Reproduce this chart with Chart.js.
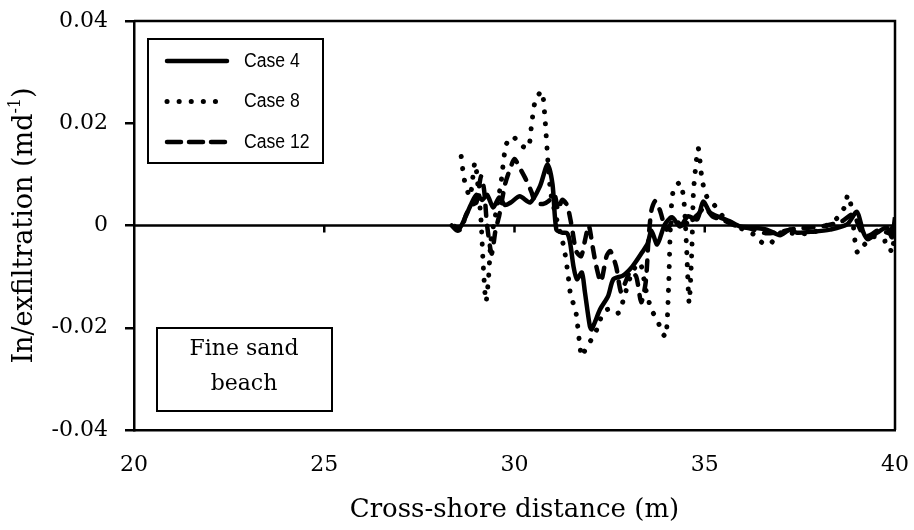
<!DOCTYPE html>
<html>
<head>
<meta charset="utf-8">
<script src="https://cdn.jsdelivr.net/npm/chart.js@4/dist/chart.umd.min.js"></script>
<style>
  body { margin: 0; background: #fff; }
  #wrap { width: 914px; height: 530px; position: relative; }
</style>
</head>
<body>
<div id="wrap"><canvas id="infil"></canvas></div>
<script>
// values (x in m, y in m/d)
const case4X = [28.4, 28.55, 28.7, 28.85, 29.0, 29.15, 29.28, 29.44, 29.6, 29.75, 29.9, 30.14, 30.41, 30.67, 30.87, 31.0, 31.1, 31.25, 31.38, 31.46, 31.55, 31.64, 31.77, 31.85, 31.98, 32.03, 32.25, 32.46, 32.6, 32.85, 33.1, 33.35, 33.5, 33.6, 33.75, 33.95, 34.14, 34.35, 34.56, 34.8, 34.96, 35.14, 35.4, 35.66, 35.93, 36.27, 36.63, 36.98, 37.24, 37.42, 37.85, 38.29, 38.74, 39.0, 39.16, 39.29, 39.53, 39.79, 39.92, 40.0];
const case4Y = [0, -0.0006, 0.0015, 0.004, 0.006, 0.005, 0.006, 0.0035, 0.0055, 0.004, 0.0045, 0.0057, 0.0045, 0.0077, 0.012, 0.008, -0.0008, -0.0014, -0.0015, -0.0033, -0.008, -0.0105, -0.0092, -0.013, -0.0197, -0.0203, -0.0164, -0.0138, -0.0105, -0.0098, -0.008, -0.0053, -0.0035, -0.001, -0.0037, 0.0002, 0.0016, -0.0002, 0.0018, 0.0012, 0.0047, 0.0025, 0.0016, 0.0008, -0.0002, -0.0004, -0.0008, -0.0019, -0.0008, -0.0014, -0.0012, -0.0008, 0.0002, 0.0027, -0.0012, -0.0027, -0.0014, -0.0004, -0.0023, 0.0016];

const case8X = [28.6, 28.68, 28.83, 28.96, 29.05, 29.12, 29.18, 29.25, 29.32, 29.38, 29.5, 29.65, 29.78, 29.96, 30.14, 30.36, 30.45, 30.55, 30.72, 30.8, 30.88, 30.95, 31.05, 31.15, 31.3, 31.4, 31.48, 31.6, 31.65, 31.72, 31.77, 31.9, 32.05, 32.2, 32.3, 32.45, 32.6, 32.75, 32.9, 33.1, 33.3, 33.45, 33.6, 33.75, 33.88, 33.98, 34.05, 34.1, 34.17, 34.35, 34.45, 34.52, 34.59, 34.66, 34.7, 34.75, 34.83, 34.93, 35.05, 35.25, 35.5, 35.85, 36.3, 36.5, 36.7, 37.0, 37.4, 37.8, 38.2, 38.5, 38.68, 38.76, 38.85, 38.95, 39.02, 39.2, 39.45, 39.65, 39.8, 39.92, 40.0];
const case8Y = [0.0135, 0.009, 0.0057, 0.0123, 0.007, 0.001, -0.008, -0.0149, -0.01, -0.003, 0.002, 0.0086, 0.0158, 0.0174, 0.0158, 0.0152, 0.0198, 0.0245, 0.0262, 0.021, 0.0123, 0.0065, 0.003, 0.0, -0.0043, -0.0092, -0.0138, -0.0164, -0.019, -0.0236, -0.0256, -0.0236, -0.022, -0.0197, -0.0175, -0.0164, -0.0172, -0.017, -0.0135, -0.009, -0.0073, -0.0125, -0.0165, -0.0184, -0.021, -0.0217, -0.012, 0.0, 0.0067, 0.0084, 0.005, -0.004, -0.0151, -0.005, 0.006, 0.0106, 0.0151, 0.009, 0.0057, 0.004, 0.0016, -0.0002, -0.0018, -0.0033, -0.0037, -0.0014, -0.0016, -0.0015, 0.0, 0.0016, 0.0037, 0.006, 0.0037, -0.0031, -0.0053, -0.0037, -0.0022, -0.0031, -0.0031, -0.0053, 0.0];

const case12X = [28.35, 28.5, 28.62, 28.72, 28.88, 29.0, 29.12, 29.2, 29.28, 29.4, 29.5, 29.6, 29.75, 29.88, 30.0, 30.12, 30.3, 30.45, 30.55, 30.75, 30.9, 31.05, 31.15, 31.25, 31.38, 31.5, 31.62, 31.75, 31.85, 31.95, 32.05, 32.15, 32.27, 32.42, 32.52, 32.67, 32.8, 32.92, 33.05, 33.2, 33.33, 33.45, 33.52, 33.6, 33.7, 33.82, 33.92, 34.0, 34.2, 34.4, 34.6, 34.8, 35.0, 35.2, 35.5, 35.8, 36.2, 36.6, 37.0, 37.4, 37.8, 38.2, 38.6, 38.9, 39.1, 39.3, 39.6, 39.85, 40.0];
const case12Y = [0, -0.001, -0.0005, 0.002, 0.004, 0.0045, 0.0096, 0.007, 0.0, -0.0055, -0.001, 0.002, 0.008, 0.011, 0.013, 0.0115, 0.009, 0.0065, 0.0045, 0.0042, 0.0048, 0.006, 0.003, 0.005, 0.004, 0.0, -0.005, -0.006, -0.003, 0.0, -0.004, -0.008, -0.011, -0.006, -0.005, -0.008, -0.013, -0.011, -0.009, -0.01, -0.015, -0.011, -0.003, 0.003, 0.0048, 0.003, 0.0005, -0.0008, 0.0012, 0.0, 0.0008, 0.002, 0.0035, 0.0018, 0.001, 0.0, -0.0006, -0.0015, -0.0012, -0.0006, -0.0004, 0.0, 0.0008, 0.0022, -0.001, -0.002, -0.0008, -0.0015, 0.001];

const seriesNames = ['Case 4', 'Case 8', 'Case 12'];
const noteLines = ['Fine sand', 'beach'];

const serif = "'DejaVu Serif', serif";

function pts(xs, ys) {
    return xs.map((x, i) => ({x: x, y: ys[i]}));
}

// draws the zero axis, frame, legend box, note box and y title
const framePlugin = {
    id: 'frame',
    beforeDatasetsDraw(chart) {
        const {ctx, chartArea: a, scales: {x, y}} = chart;
        const y0 = y.getPixelForValue(0);
        ctx.save();
        ctx.strokeStyle = '#000';
        ctx.lineWidth = 2.5;
        ctx.beginPath();
        ctx.moveTo(a.left, y0);
        ctx.lineTo(a.right, y0);
        x.ticks.forEach(t => {
            if (t.value > x.min && t.value < x.max) {
                const px = x.getPixelForValue(t.value);
                ctx.moveTo(px, y0);
                ctx.lineTo(px, y0 + 7);
            }
        });
        ctx.stroke();
        ctx.restore();
    },
    afterDraw(chart) {
        const {ctx, chartArea: a} = chart;
        ctx.save();
        ctx.strokeStyle = '#000';
        ctx.fillStyle = '#000';
        ctx.lineWidth = 2.5;
        ctx.beginPath();
        ctx.moveTo(a.left, a.top);
        ctx.lineTo(a.right, a.top);
        ctx.lineTo(a.right, a.bottom);
        ctx.stroke();

        // legend
        const lx = a.left + 14, ly = a.top + 18;
        ctx.fillStyle = '#fff';
        ctx.fillRect(lx, ly, 175, 124);
        ctx.lineWidth = 2;
        ctx.strokeRect(lx, ly, 175, 124);
        ctx.fillStyle = '#000';
        ctx.font = "20px 'Liberation Sans Narrow', 'Liberation Sans', sans-serif";
        ctx.textBaseline = 'middle';
        chart.data.datasets.forEach((ds, i) => {
            const ry = ly + 22 + i * 40.5;
            ctx.save();
            ctx.lineWidth = ds.borderWidth;
            ctx.lineCap = 'round';
            ctx.setLineDash(ds.legendDash || []);
            ctx.beginPath();
            ctx.moveTo(lx + 19, ry);
            ctx.lineTo(lx + 79, ry);
            ctx.stroke();
            ctx.restore();
            ctx.save();
            ctx.translate(lx + 96, ry);
            ctx.scale(0.88, 1);
            ctx.fillText(ds.label, 0, 0);
            ctx.restore();
        });

        // note box
        const nx = a.left + 23, ny = a.top + 307;
        ctx.lineWidth = 2;
        ctx.fillStyle = '#fff';
        ctx.fillRect(nx, ny, 175, 83);
        ctx.strokeRect(nx, ny, 175, 83);
        ctx.fillStyle = '#000';
        ctx.font = '22px ' + serif;
        ctx.textAlign = 'center';
        ctx.textBaseline = 'alphabetic';
        noteLines.forEach((t, i) => ctx.fillText(t, nx + 87, ny + 27 + i * 35));

        // y axis title with superscript
        ctx.translate(25, (a.top + a.bottom) / 2);
        ctx.rotate(-Math.PI / 2);
        const main = 'In/exfiltration (md';
        const sup = '-1';
        const tail = ')';
        ctx.font = '27px ' + serif;
        const w1 = ctx.measureText(main).width;
        const w3 = ctx.measureText(tail).width;
        ctx.font = '16px ' + serif;
        const w2 = ctx.measureText(sup).width;
        let sx = -(w1 + w2 + w3) / 2;
        ctx.textAlign = 'left';
        ctx.textBaseline = 'middle';
        ctx.font = '27px ' + serif;
        ctx.fillText(main, sx, 0);
        ctx.font = '16px ' + serif;
        ctx.fillText(sup, sx + w1, -9);
        ctx.font = '27px ' + serif;
        ctx.fillText(tail, sx + w1 + w2, 0);
        ctx.restore();
    }
};

const config = {
    type: 'line',
    data: {
        datasets: [{
            label: seriesNames[0],
            data: pts(case4X, case4Y),
            borderColor: '#000',
            borderWidth: 4.5,
            borderDash: [],
            legendDash: []
        },
        {
            label: seriesNames[1],
            data: pts(case8X, case8Y),
            borderColor: '#000',
            borderWidth: 5,
            borderCapStyle: 'round',
            borderDash: [0.1, 12],
            legendDash: [0.1, 12]
        },
        {
            label: seriesNames[2],
            data: pts(case12X, case12Y),
            borderColor: '#000',
            borderWidth: 4.5,
            borderCapStyle: 'round',
            borderDash: [10, 10],
            legendDash: [14, 8]
        }]
    },
    options: {
        responsive: true,
        maintainAspectRatio: false,
        animation: false,
        layout: { padding: {top: 21, right: 19, bottom: 0, left: 0} },
        elements: { point: { radius: 0 }, line: { tension: 0.25, borderJoinStyle: 'round' } },
        plugins: { legend: { display: false }, tooltip: { enabled: false } },
        scales: {
            x: {
                type: 'linear',
                min: 20,
                max: 40,
                ticks: { stepSize: 5, color: '#000', padding: 14, font: { family: serif, size: 22 } },
                grid: { display: false },
                border: { display: true, color: '#000', width: 2.5 },
                title: {
                    display: true,
                    text: 'Cross-shore distance (m)',
                    color: '#000',
                    font: { family: serif, size: 26 },
                    padding: { top: 12 }
                },
                afterFit(s) {
                    s.height = 100;
                    s.paddingLeft = 0;
                    s.paddingRight = 0;
                }
            },
            y: {
                min: -0.04,
                max: 0.04,
                ticks: {
                    stepSize: 0.02,
                    color: '#000',
                    padding: 17,
                    font: { family: serif, size: 22 },
                    callback: v => Math.abs(v) < 1e-9 ? '0' : v.toFixed(2)
                },
                grid: { display: true, drawOnChartArea: false, drawTicks: true, tickLength: 9, color: '#000', lineWidth: 2.5 },
                border: { display: true, color: '#000', width: 2.5 },
                afterFit(s) {
                    s.width = 134;
                    s.paddingTop = 0;
                    s.paddingBottom = 0;
                }
            }
        }
    },
    plugins: [framePlugin]
};

const infilChart = new Chart(document.getElementById('infil'), config);
</script>
</body>
</html>
